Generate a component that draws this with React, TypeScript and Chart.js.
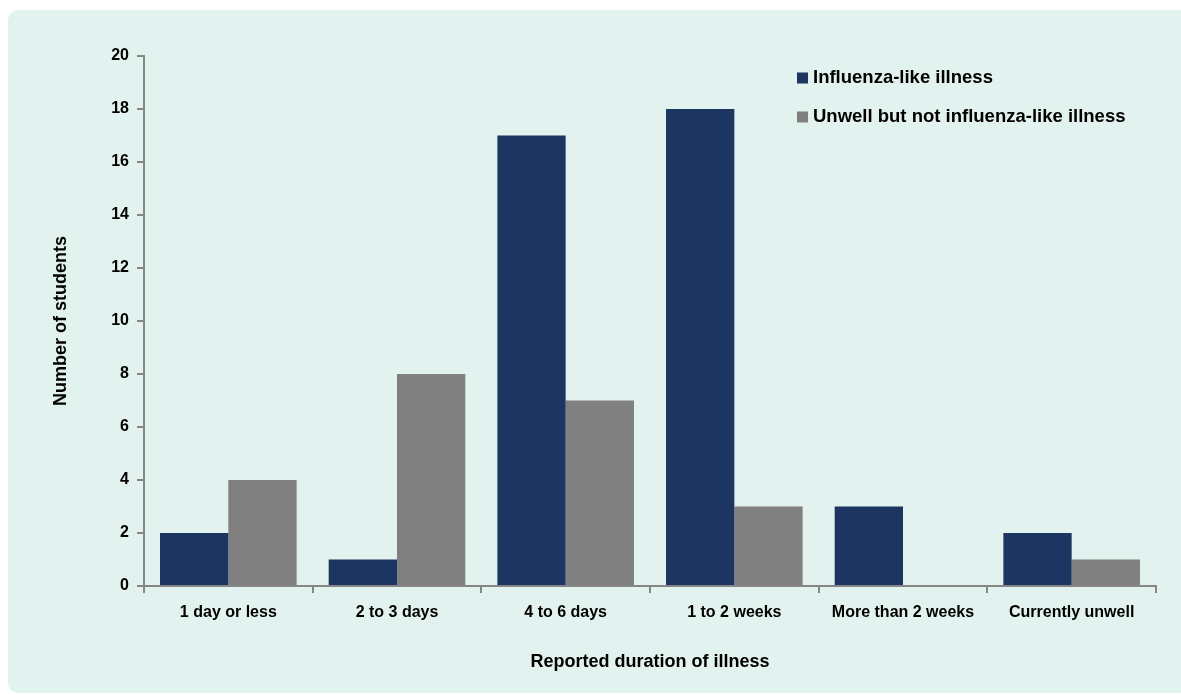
import { useEffect, useRef } from "react";
import { Chart, registerables } from "chart.js";

Chart.register(...registerables);

// Reported duration of illness, by category
const categories = [
  "1 day or less",
  "2 to 3 days",
  "4 to 6 days",
  "1 to 2 weeks",
  "More than 2 weeks",
  "Currently unwell",
];

// Number of students in each group
const influenzaLike = [2, 1, 17, 18, 3, 2];
const unwellNotInfluenzaLike = [4, 8, 7, 3, 0, 1];

const seriesLabels = ["Influenza-like illness", "Unwell but not influenza-like illness"];

const yMin = 0;
const yMax = 20;
const yStep = 2;

const NAVY = "#1d3561";
const GREY = "#808080";
const AXIS = "#868686";
const FONT_FAMILY = "'Liberation Sans', Arial, Helvetica, sans-serif";

// Legend stacked vertically in the upper right of the plot
const sideLegend = {
  id: "sideLegend",
  afterDraw(chart: Chart) {
    const { ctx } = chart;
    ctx.save();
    ctx.font = `bold 18.5px ${FONT_FAMILY}`;
    ctx.textBaseline = "middle";
    ctx.textAlign = "left";
    chart.data.datasets.forEach((ds: any, i: number) => {
      const cy = 68 + i * 39;
      ctx.fillStyle = ds.backgroundColor;
      ctx.fillRect(789, cy - 5.5, 11, 11);
      ctx.fillStyle = "#000";
      ctx.fillText(ds.label, 805, cy);
    });
    ctx.restore();
  },
};

export default function App() {
  const canvasRef = useRef<HTMLCanvasElement | null>(null);

  useEffect(() => {
    if (!canvasRef.current) return;
    const chart = new Chart(canvasRef.current, {
      type: "bar",
      data: {
        labels: categories,
        datasets: [
          {
            label: seriesLabels[0],
            data: influenzaLike,
            backgroundColor: NAVY,
            borderWidth: 0,
            categoryPercentage: 0.81,
            barPercentage: 1,
          },
          {
            label: seriesLabels[1],
            data: unwellNotInfluenzaLike,
            backgroundColor: GREY,
            borderWidth: 0,
            categoryPercentage: 0.81,
            barPercentage: 1,
          },
        ],
      },
      options: {
        responsive: false,
        animation: false,
        layout: { padding: { top: 46, right: 25, left: 0, bottom: 0 } },
        plugins: {
          legend: { display: false },
          tooltip: { enabled: false },
        },
        scales: {
          x: {
            grid: {
              offset: true,
              drawOnChartArea: false,
              tickLength: 7,
              color: AXIS,
              lineWidth: 2,
            },
            border: { color: AXIS, width: 2 },
            ticks: {
              color: "#000",
              padding: 10,
              maxRotation: 0,
              font: { family: FONT_FAMILY, size: 16, weight: "bold" },
            },
            title: {
              display: true,
              text: "Reported duration of illness",
              color: "#000",
              font: { family: FONT_FAMILY, size: 18, weight: "bold" },
              padding: { top: 0, bottom: 20 },
            },
            afterFit(scale: any) {
              scale.height = 107;
            },
          },
          y: {
            min: yMin,
            max: yMax,
            grid: {
              drawOnChartArea: false,
              tickLength: 7,
              color: AXIS,
              lineWidth: 2,
            },
            border: { color: AXIS, width: 2 },
            ticks: {
              stepSize: yStep,
              color: "#000",
              padding: 8,
              font: { family: FONT_FAMILY, size: 16, weight: "bold" },
            },
            title: {
              display: true,
              text: "Number of students",
              color: "#000",
              font: { family: FONT_FAMILY, size: 18, weight: "bold" },
              padding: { top: 42, bottom: 0 },
            },
            afterFit(scale: any) {
              scale.width = 136;
            },
          },
        },
      },
      plugins: [sideLegend],
    });
    return () => chart.destroy();
  }, []);

  return (
    <div
      style={{
        position: "absolute",
        left: 8,
        top: 10,
        width: 1173,
        height: 683,
        background: "#e2f2ef",
        borderRadius: "10px 0 0 10px",
      }}
    >
      <canvas ref={canvasRef} width={1173} height={683} style={{ display: "block" }} />
    </div>
  );
}
